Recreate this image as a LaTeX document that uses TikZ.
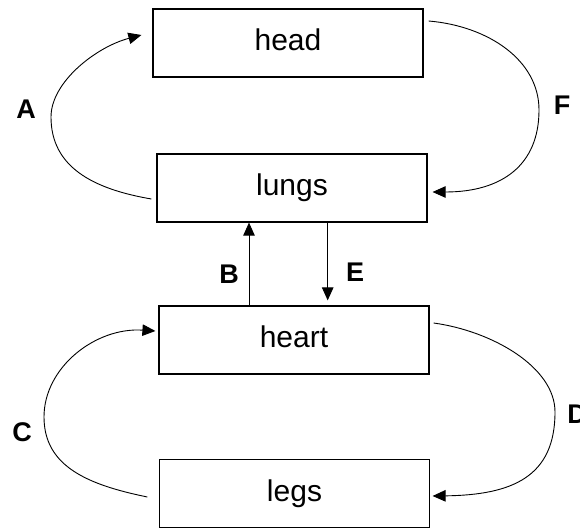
\documentclass[tikz,border=0pt]{standalone}
\usepackage{fontspec}
\setmainfont{Liberation Sans}
\usetikzlibrary{arrows.meta}
\begin{document}
\begin{tikzpicture}[x=1pt,y=-1pt,
  organ/.style={draw, line width=1.2pt, minimum width=270pt, minimum height=68pt,
    inner sep=0pt, font=\fontsize{30}{36}\selectfont, text height=22pt, text depth=7pt},
  lbl/.style={font=\fontsize{27}{31}\selectfont\bfseries, inner sep=0pt},
  flow/.style={line width=0.9pt, -{Triangle[length=13pt,width=11.5pt]}}]
\useasboundingbox (0,0) rectangle (580,529);
\node[organ] (head)  at (288,43)    {head};
\node[organ] (lungs) at (292,188)   {lungs};
\node[organ] (heart) at (294,340)   {heart};
\node[organ] (legs)  at (294.5,493.5) {legs};
% A
\draw[flow] ([xshift=-5pt,yshift=-11pt]lungs.west) .. controls (93,189) and (51,167) .. (51,117)
  .. controls (51,82) and (96,47) .. ([xshift=-11pt,yshift=8pt]head.west);
% F
\draw[flow] ([xshift=5pt,yshift=22pt]head.east) .. controls (488,26) and (539,60) .. (539,110)
  .. controls (539,165) and (502,192) .. ([xshift=5pt,yshift=-4pt]lungs.east);
% C
\draw[flow] ([xshift=-11.5pt,yshift=-3.5pt]legs.west) .. controls (89,485) and (44,467) .. (44,417)
  .. controls (44,367) and (96,327) .. ([xshift=-3pt,yshift=9pt]heart.west);
% D
\draw[flow] ([xshift=4pt,yshift=17pt]heart.east) .. controls (492,331) and (555,367) .. (555,412)
  .. controls (555,477) and (512,495) .. ([xshift=2.5pt,yshift=-2.5pt]legs.east);
% B and E
\coordinate (Bx) at ([xshift=-45pt]heart.north);
\draw[flow] (Bx) -- (Bx |- lungs.south);
\coordinate (Ex) at ([xshift=35.7pt]lungs.south);
\draw[flow, shorten >=5pt] (Ex) -- (Ex |- heart.north);
% labels
\node[lbl] (lA) at (26,109) {A};
\node[lbl] (lF) at (562,105) {F};
\node[lbl] (lB) at (229,274.5) {B};
\node[lbl] (lE) at (355,272.5) {E};
\node[lbl] (lC) at (22,432) {C};
\node[lbl] (lD) at (577,414) {D};
\end{tikzpicture}
\end{document}
